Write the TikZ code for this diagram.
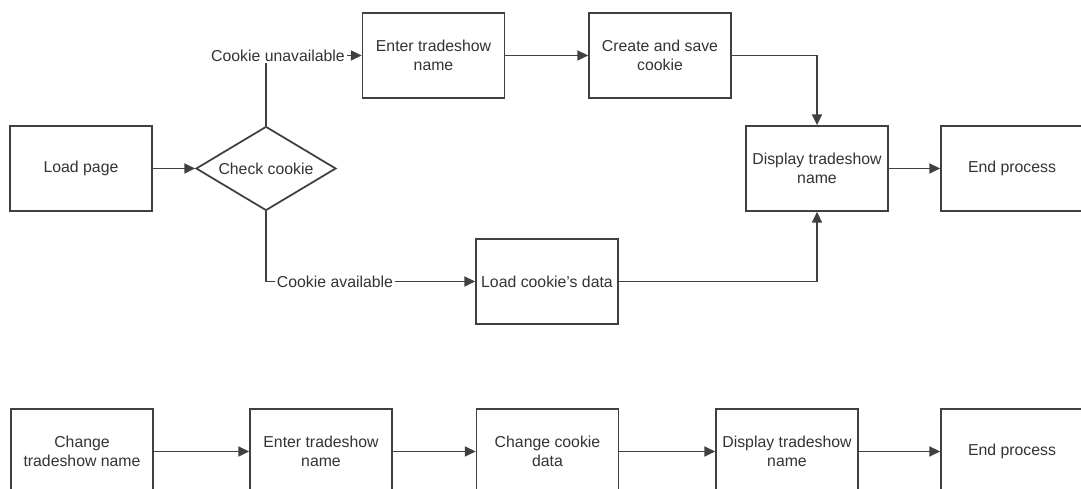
\documentclass[tikz,border=0pt]{standalone}
\usepackage{fontspec}
\setmainfont{Liberation Sans}
\usetikzlibrary{arrows.meta}
\usetikzlibrary{shapes}
\newcommand{\flowfont}{\fontsize{13.5}{16.2}\selectfont}
\tikzset{%
	box/.style={rectangle,draw=black!75,fill=white,line width=1.5,minimum width=4.26cm,minimum height=2.55cm,inner sep=0,align=center,text=black!80,font=\flowfont},
	decision/.style={diamond,aspect=1.667,draw=black!75,fill=white,line width=1.5,minimum width=4.2cm,minimum height=2.52cm,inner sep=0,text=black!80,font=\flowfont},
	lbl/.style={fill=white,inner sep=0.06cm,text=black!80,font=\flowfont},
	flow/.style={arrows={-Triangle[length=0.32cm,width=0.3cm]},line width=1.5,color=black!75},
}

\begin{document}
\begin{tikzpicture}[x=0.03cm,y=-0.03cm]
	\useasboundingbox (0,0) rectangle (1081,489);
	\clip (0,0) rectangle (1081,489);
	% first run: read or make the cookie
	\node (load) at (81,168.5) [box] {Load page};
	\node (check) at (266,168.5) [decision] {Check cookie};
	\node (enter) at (433.5,55.5) [box] {Enter tradeshow\\name};
	\node (create) at (660,55.5) [box] {Create and save\\cookie};
	\node (show) at (817,168.5) [box] {Display tradeshow\\name};
	\node (done) at (1012,168.5) [box] {End process};
	\node (readc) at (547,281.5) [box] {Load cookie's data};
	
	\draw[flow] (load) -- (check);
	\draw[flow] (check.north) |- (enter.west);
	\node (unav) at (278,55.5) [lbl] {Cookie unavailable};
	\draw[flow] (check.south) |- (readc.west);
	\node (avail) at (335,281.5) [lbl] {Cookie available};
	\draw[flow] (enter) -- (create);
	\draw[flow] (create.east) -| (show.north);
	\draw[flow] (readc.east) -| (show.south);
	\draw[flow] (show) -- (done);
	
	% changing the name later
	\node (chg) at (82,451.5) [box] {Change\\tradeshow name};
	\node (enter2) at (321,451.5) [box] {Enter tradeshow\\name};
	\node (chgc) at (547.5,451.5) [box] {Change cookie\\data};
	\node (show2) at (787,451.5) [box] {Display tradeshow\\name};
	\node (done2) at (1012,451.5) [box] {End process};
	
	\draw[flow] (chg) -- (enter2);
	\draw[flow] (enter2) -- (chgc);
	\draw[flow] (chgc) -- (show2);
	\draw[flow] (show2) -- (done2);
\end{tikzpicture}
\end{document}
